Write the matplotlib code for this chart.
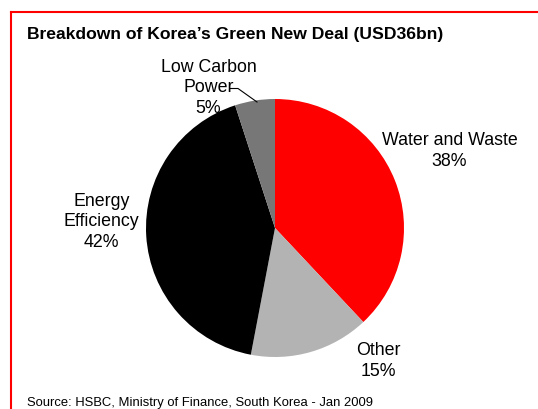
import matplotlib.pyplot as plt
from matplotlib.lines import Line2D

plt.rcParams['font.family'] = ['Liberation Sans', 'DejaVu Sans']

# Data
categories = ["Water and Waste", "Other", "Energy\nEfficiency", "Low Carbon\nPower"]
shares = [38, 15, 42, 5]
colors = ["#ff0000", "#b3b3b3", "#000000", "#777777"]

W, H = 538, 410
fig = plt.figure(figsize=(W / 100, H / 100), dpi=100)

def fx(px):
    return px / W

def fy(py):
    return 1 - py / H

# red frame (top + left)
fig.add_artist(Line2D([fx(11), fx(538)], [fy(13), fy(13)], color="#ff0000", lw=1.5,
                      transform=fig.transFigure))
fig.add_artist(Line2D([fx(11), fx(11)], [fy(13), fy(410)], color="#ff0000", lw=1.5,
                      transform=fig.transFigure))

# pie axes: centre (275, 229), radius ~129 px
cx, cy, r = 275, 229, 129
ax = fig.add_axes([fx(cx - r), fy(cy + r), 2 * r / W, 2 * r / H])
ax.pie(shares, colors=colors, startangle=90, counterclock=False, radius=1,
       wedgeprops=dict(linewidth=0))
ax.set_xlim(-1, 1)
ax.set_ylim(-1, 1)
ax.axis("off")

fig.text(fx(27), fy(39.5), "Breakdown of Korea\u2019s Green New Deal (USD36bn)",
         fontsize=12.6, fontweight="bold", ha="left", va="baseline")

lab = dict(fontsize=12.8, ha="center", va="center", linespacing=1.27)
fig.text(fx(449.5), fy(151), f"{categories[0]}\n{shares[0]}%", **lab)
fig.text(fx(378), fy(361), f"{categories[1]}\n{shares[1]}%", **lab)
fig.text(fx(101.5), fy(222), f"{categories[2]}\n{shares[2]}%", **lab)
fig.text(fx(208.5), fy(88), f"{categories[3]}\n{shares[3]}%", **lab)

# leader for Low Carbon Power
fig.add_artist(Line2D([fx(230), fx(238), fx(257)], [fy(89.5), fy(89.5), fy(103)],
                      color="black", lw=0.8, transform=fig.transFigure))

fig.text(fx(27), fy(406.5), "Source: HSBC, Ministry of Finance, South Korea - Jan 2009",
         fontsize=9.4, ha="left", va="baseline")

fig.savefig("out.png", dpi=100)
